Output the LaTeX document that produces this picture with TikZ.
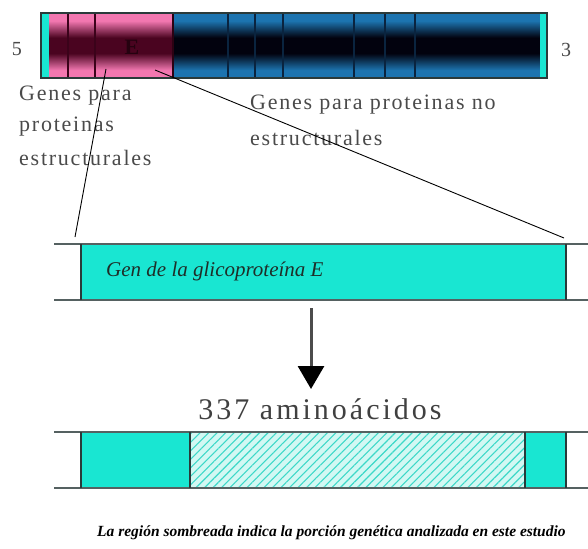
\documentclass[tikz,border=0pt]{standalone}
\usepackage{fontspec}
\setmainfont{Liberation Serif}
\usetikzlibrary{arrows.meta,patterns.meta}
\definecolor{pinkc}{HTML}{F277B0}
\definecolor{pinkdark}{HTML}{4A0420}
\definecolor{bluec}{HTML}{1C74B0}
\definecolor{bluedark}{HTML}{02020E}
\definecolor{cyanc}{HTML}{19E6D2}
\definecolor{cyanlight}{HTML}{D2F8F3}
\definecolor{cyanhatch}{HTML}{3CD8C8}
\definecolor{edgec}{HTML}{2A3A3A}
\definecolor{labelc}{HTML}{4A4A4A}
\definecolor{scriptc}{HTML}{1E2E28}
\pgfdeclareverticalshading{pinkbar}{100bp}{color(0bp)=(pinkc); color(31bp)=(pinkc); color(44bp)=(pinkdark); color(56bp)=(pinkdark); color(69bp)=(pinkc); color(100bp)=(pinkc)}
\pgfdeclareverticalshading{bluebar}{100bp}{color(0bp)=(bluec); color(31bp)=(bluec); color(44bp)=(bluedark); color(56bp)=(bluedark); color(69bp)=(bluec); color(100bp)=(bluec)}
\tikzset{
  lbl/.style={text=labelc, font=\fontsize{22}{22}\selectfont\addfontfeature{LetterSpace=8}, inner sep=0pt},
  divider/.style={line width=1.3pt},
  railline/.style={draw=edgec!80, line width=1.8pt},
  boxedge/.style={draw=edgec, line width=1.4pt},
  zoomline/.style={draw=black, line width=0.9pt},
}
\begin{document}
\begin{tikzpicture}[x=1pt,y=-1pt]
\useasboundingbox (0,0) rectangle (588,548);
% ---------- genome bar ----------
\shade[shading=pinkbar] (49,13) rectangle (173,78);
\shade[shading=bluebar] (173,13) rectangle (540,78);
\fill[cyanc] (42,13) rectangle (49,78);
\fill[cyanc] (540,13) rectangle (546,78);
\foreach \xx in {68,95} \draw[divider, draw=pinkdark!80!black] (\xx,13) -- (\xx,78);
\draw[divider, draw=pinkdark!60!black] (173,13) -- (173,78);
\foreach \xx in {228,255,283,354,385,415} \draw[divider, draw=bluedark!70!bluec] (\xx,13) -- (\xx,78);
\draw[draw=edgec, line width=1.2pt] (41,13) rectangle (547,78);
\node[text=pinkdark!50!black, font=\fontsize{22}{22}\selectfont\bfseries, inner sep=0pt] (elab) at (132,47) {E};
\node[text=labelc, font=\fontsize{20}{20}\selectfont, inner sep=0pt] (five) at (17,49) {5};
\node[text=labelc, font=\fontsize{20}{20}\selectfont, inner sep=0pt] (three) at (566,50) {3};
% ---------- labels ----------
\node[lbl, anchor=west] (l1) at (19,96) {Genes para};
\node[lbl, anchor=west] (l2) at (19,127) {proteinas};
\node[lbl, anchor=west] (l3) at (19,158) {estructurales};
\node[lbl, anchor=west] (r1) at (250,105) {Genes para proteinas no};
\node[lbl, anchor=west] (r2) at (250,138) {estructurales};
% ---------- gene E bar ----------
\fill[cyanc] (81,244) rectangle (566,300);
\draw[railline] (54,244) -- (588,244);
\draw[railline] (54,300) -- (588,300);
\draw[boxedge] (81,244) -- (81,300);
\draw[boxedge] (566,244) -- (566,300);
\node[anchor=west, text=scriptc, font=\fontsize{21}{21}\selectfont\itshape, inner sep=0pt] (gen) at (106,271) {Gen de la glicoproteína E};
% ---------- zoom lines ----------
\coordinate (zla) at (106,69);
\coordinate (zlb) at (75,237);
\coordinate (zra) at (155,70);
\coordinate (zrb) at (564,238);
\draw[zoomline] (zla) -- (zlb);
\draw[zoomline] (zra) -- (zrb);
% ---------- arrow ----------
\coordinate (atop) at (311,308);
\coordinate (atip) at (311,389);
\draw[draw=black!70, line width=3pt, -{Triangle[width=26pt,length=23pt,color=black]}] (atop) -- (atip);
\node[text=black!75, font=\fontsize{30}{30}\selectfont\addfontfeature{LetterSpace=10}, inner sep=0pt] (aa) at (320,409) {337 aminoácidos};
% ---------- analysed region bar ----------
\fill[cyanc] (81,432) rectangle (190,488);
\fill[cyanlight] (190,432) rectangle (525,488);
\fill[pattern={Lines[angle=45,distance=6pt,line width=1.1pt]}, pattern color=cyanhatch] (190,432) rectangle (525,488);
\fill[cyanc] (525,432) rectangle (566,488);
\draw[railline] (54,432) -- (588,432);
\draw[railline] (54,488) -- (588,488);
\foreach \xx in {81,190,525,566} \draw[boxedge] (\xx,432) -- (\xx,488);
% ---------- footnote ----------
\node[anchor=west, text=black, font=\fontsize{15.5}{15.5}\selectfont\bfseries\itshape, inner sep=0pt] (note) at (97,533) {La región sombreada indica la porción genética analizada en este estudio};
\end{tikzpicture}
\end{document}
